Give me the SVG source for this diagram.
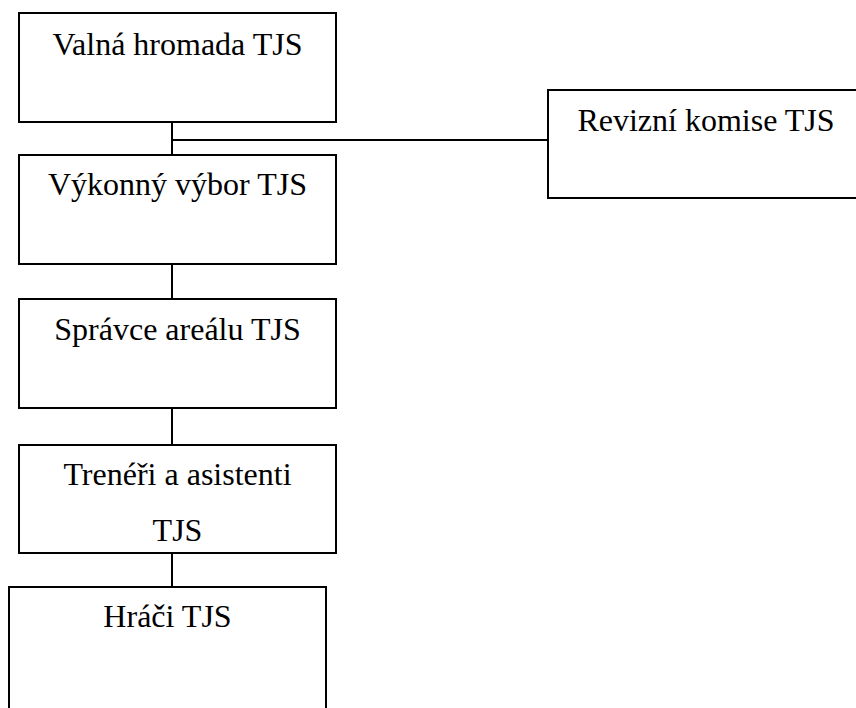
<svg xmlns="http://www.w3.org/2000/svg" width="856" height="708" viewBox="0 0 856 708">
<style>
.box{fill:#fff;stroke:#000;stroke-width:2}
.lbl{font-family:"Liberation Serif","Times New Roman",serif;font-size:32px;fill:#000;text-anchor:middle}
.conn{stroke:#000;stroke-width:2;fill:none}
</style>
<rect width="856" height="708" fill="#fff"/>
<g id="connectors">
<line class="conn" x1="172" y1="122" x2="172" y2="155"/>
<line class="conn" x1="172" y1="140" x2="548" y2="140"/>
<line class="conn" x1="172" y1="264" x2="172" y2="299"/>
<line class="conn" x1="172" y1="408" x2="172" y2="445"/>
<line class="conn" x1="172" y1="553" x2="172" y2="587"/>
</g>
<g id="valna">
<rect class="box" x="19" y="13" width="317" height="109"/>
<text class="lbl" x="177.5" y="55">Valná hromada TJS</text>
</g>
<g id="revizni">
<rect class="box" x="548" y="90" width="317" height="108"/>
<text class="lbl" x="706" y="131">Revizní komise TJS</text>
</g>
<g id="vykonny">
<rect class="box" x="19" y="155" width="317" height="109"/>
<text class="lbl" x="177.5" y="195">Výkonný výbor TJS</text>
</g>
<g id="spravce">
<rect class="box" x="19" y="299" width="317" height="109"/>
<text class="lbl" x="177.5" y="340">Správce areálu TJS</text>
</g>
<g id="treneri">
<rect class="box" x="19" y="445" width="317" height="108"/>
<text class="lbl" x="177.5" y="485">Trenéři a asistenti</text>
<text class="lbl" x="177.5" y="541">TJS</text>
</g>
<g id="hraci">
<rect class="box" x="9" y="587" width="317" height="140"/>
<text class="lbl" x="167.5" y="627">Hráči TJS</text>
</g>
</svg>
